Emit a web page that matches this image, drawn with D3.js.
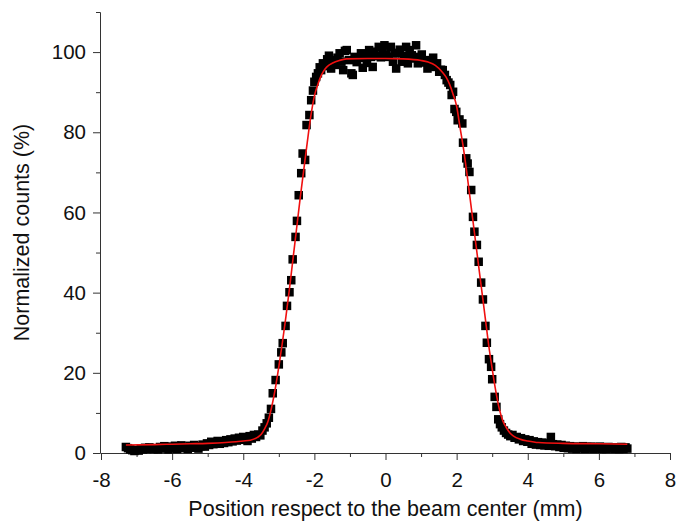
<!DOCTYPE html>
<html>
<head>
<meta charset="utf-8">
<script src="https://cdn.jsdelivr.net/npm/d3@7"></script>
<style>
  body { margin: 0; background: #fff; }
  svg text { font-family: "Liberation Sans", Arial, sans-serif; fill: #111; }
</style>
</head>
<body>
<svg id="chart" width="677" height="525"></svg>
<script>
'use strict';

// measured profile, position (mm)
var posX = [
  -7.30,-7.24,-7.18,-7.12,-7.06,-7.00,-6.94,-6.88,-6.82,-6.76,
  -6.70,-6.64,-6.58,-6.52,-6.46,-6.40,-6.34,-6.28,-6.22,-6.16,
  -6.10,-6.04,-5.98,-5.92,-5.86,-5.80,-5.74,-5.68,-5.62,-5.56,
  -5.50,-5.44,-5.38,-5.32,-5.26,-5.20,-5.14,-5.08,-5.02,-4.96,
  -4.90,-4.84,-4.78,-4.72,-4.66,-4.60,-4.54,-4.48,-4.42,-4.36,
  -4.30,-4.24,-4.18,-4.12,-4.06,-4.00,-3.94,-3.88,-3.82,-3.76,
  -3.70,-3.64,-3.58,-3.52,-3.46,-3.40,-3.34,-3.28,-3.22,-3.17,
  -3.09,-3.00,-2.93,-2.89,-2.81,-2.77,-2.70,-2.65,-2.61,-2.53,
  -2.49,-2.44,-2.37,-2.33,-2.26,-2.22,-2.14,-2.09,-2.04,-2.00,
  -1.95,-1.90,-1.85,-1.81,-1.76,-1.70,-1.64,-1.59,-1.53,-1.47,
  -1.41,-1.35,-1.29,-1.24,-1.19,-1.14,-1.09,-1.03,-0.96,-0.92,
  -0.87,-0.81,-0.75,-0.69,-0.64,-0.58,-0.52,-0.46,-0.41,-0.36,
  -0.31,-0.25,-0.19,-0.13,-0.08,-0.03, 0.03, 0.09, 0.15, 0.21,
   0.27, 0.30, 0.35, 0.40, 0.46, 0.52, 0.58, 0.63, 0.68, 0.74,
   0.80, 0.86, 0.91, 0.96, 1.02, 1.07, 1.12, 1.18, 1.23, 1.29,
   1.34, 1.40, 1.45, 1.51, 1.56, 1.61, 1.67, 1.72, 1.77, 1.82,
   1.86, 1.90, 1.94, 1.99, 2.03, 2.08, 2.16, 2.18, 2.27, 2.31,
   2.36, 2.41, 2.46, 2.50, 2.57, 2.62, 2.69, 2.74, 2.81, 2.85,
   2.91, 2.97, 3.00, 3.07, 3.12, 3.17, 3.22, 3.27, 3.33, 3.39,
   3.45, 3.51, 3.57, 3.63, 3.69, 3.75, 3.81, 3.87, 3.93, 3.99,
   4.05, 4.11, 4.17, 4.23, 4.29, 4.35, 4.41, 4.47, 4.53, 4.59,
   4.65, 4.71, 4.77, 4.83, 4.89, 4.95, 5.01, 5.07, 5.13, 5.19,
   5.25, 5.31, 5.37, 5.43, 5.49, 5.55, 5.61, 5.67, 5.73, 5.79,
   5.85, 5.91, 5.97, 6.03, 6.09, 6.15, 6.21, 6.27, 6.33, 6.39,
   6.45, 6.51, 6.57, 6.63, 6.69, 6.75, 6.80
];

// normalized counts (%)
var counts = [
  1.5, 1.2, 0.9, 0.7, 0.5, 0.8, 0.6, 1.1, 0.9, 1.3,
  1.0, 1.4, 1.2, 1.0, 1.2, 0.9, 1.5, 1.1, 1.7, 1.3,
  0.9, 1.6, 1.2, 1.8, 1.0, 1.4, 1.9, 1.2, 1.6, 1.0,
  1.8, 1.3, 2.0, 1.5, 1.1, 1.7, 2.1, 1.6, 2.4, 2.0,
  2.8, 2.2, 2.6, 3.0, 2.3, 2.9, 2.5, 3.2, 2.7, 3.4,
  2.9, 3.6, 3.1, 3.8, 3.3, 4.0, 3.5, 3.0, 4.2, 3.6,
  4.5, 4.0, 4.6, 4.4, 5.6, 6.4, 7.4, 8.8, 11.0, 14.9,
  18.2, 22.1, 25.1, 27.4, 31.7, 36.7, 40.1, 43.1, 48.3, 53.9,
  57.9, 64.3, 69.8, 74.7, 73.1, 81.8, 84.3, 88.0, 90.4, 92.6,
  93.8, 94.7, 96.2, 95.5, 97.2, 96.5, 98.2, 99.1, 95.9, 98.0,
  96.8, 98.6, 99.7, 97.6, 95.5, 100.3, 100.5, 98.0, 94.7, 94.3,
  98.8, 97.5, 98.5, 99.7, 96.1, 99.3, 97.3, 100.5, 98.8, 96.3,
  100.1, 99.0, 101.3, 98.7, 100.4, 101.7, 99.3, 98.8, 101.3, 97.6,
  99.7, 95.9, 99.8, 100.6, 97.6, 99.1, 101.3, 97.2, 100.5, 99.2,
  98.4, 101.7, 97.2, 98.8, 99.4, 97.4, 98.0, 95.9, 97.8, 96.6,
  98.6, 96.3, 97.2, 95.1, 95.6, 95.5, 94.3, 93.0, 92.4, 91.8,
  89.3, 90.1, 85.8, 85.1, 83.0, 83.2, 82.2, 77.4, 73.5, 72.2,
  70.1, 65.6, 58.9, 55.2, 51.9, 47.7, 42.5, 38.3, 31.7, 27.5,
  23.4, 21.5, 18.4, 14.0, 11.5, 8.4, 7.2, 6.4, 5.6, 5.0,
  4.6, 4.2, 4.5, 3.8, 4.0, 3.4, 3.7, 3.0, 3.4, 2.8,
  3.2, 2.3, 2.9, 2.1, 2.7, 2.0, 2.6, 1.9, 2.4, 1.8,
  4.0, 2.2, 1.7, 2.1, 1.5, 2.0, 1.3, 1.8, 1.2, 1.7,
  1.1, 1.6, 1.0, 1.5, 1.2, 1.7, 1.0, 1.5, 1.1, 1.6,
  1.0, 1.4, 1.1, 1.6, 1.0, 1.4, 1.0, 1.5, 1.1, 1.4,
  1.0, 1.3, 1.0, 1.5, 1.0, 1.4, 1.1
];

// fitted curve (red)
var fitX = [-7.3,-6.5,-6.0,-5.5,-5.0,-4.5,-4.2,-4.0,-3.8,-3.6,-3.5,-3.4,-3.3,-3.2,-3.1,
  -3.0,-2.9,-2.8,-2.7,-2.6,-2.5,-2.4,-2.3,-2.2,-2.1,-2.0,-1.9,-1.8,-1.7,-1.6,-1.5,-1.3,-1.1,
  -0.5,0,0.5,1.0,1.2,1.4,1.6,1.7,1.8,1.9,2.0,2.1,2.2,2.3,2.4,2.5,2.6,2.7,2.8,2.9,3.0,3.1,
  3.2,3.3,3.4,3.5,3.6,3.8,4.0,4.3,5.0,6.0,6.8];
var fitY = [2.0,2.1,2.2,2.3,2.4,2.6,2.8,3.0,3.2,3.9,4.6,6.0,8.0,11.5,16.0,
  21.5,27.5,34.0,41.0,48.5,56.0,63.5,70.5,77.5,84.0,89.0,92.0,94.3,95.8,96.7,97.2,97.9,98.3,
  98.4,98.4,98.3,97.9,97.5,96.7,95.0,93.8,92.0,89.5,86.5,81.0,75.5,69.0,62.0,55.0,48.0,41.0,34.0,27.0,21.0,15.5,
  11.0,8.0,6.3,5.0,4.2,3.4,3.0,2.6,2.4,2.3,2.2];

var xTicks = [-8, -6, -4, -2, 0, 2, 4, 6, 8];
var xMinor = [-7, -5, -3, -1, 1, 3, 5, 7];
var yTicks = [0, 20, 40, 60, 80, 100];
var yMinor = [10, 30, 50, 70, 90, 110];

var svg = d3.select('#chart');

var x = d3.scaleLinear().domain([-8, 8]).range([101, 670]);
var y = d3.scaleLinear().domain([0, 110]).range([453, 12]);

function styleAxis(g) {
  g.selectAll('path, line').attr('stroke', '#333').attr('stroke-width', 1);
  g.selectAll('text').attr('font-size', 20.5).attr('fill', '#111')
    .attr('font-family', '"Liberation Sans", Arial, sans-serif');
}

// minor ticks first, then major ticks with labels
svg.append('g').attr('transform', 'translate(0,453)')
  .call(d3.axisBottom(x).tickValues(xMinor).tickSize(4).tickFormat('').tickSizeOuter(0))
  .call(styleAxis);
svg.append('g').attr('transform', 'translate(0,453)')
  .call(d3.axisBottom(x).tickValues(xTicks).tickSize(7).tickPadding(12)
    .tickFormat(function(d) { return String(d); }).tickSizeOuter(0))
  .call(styleAxis);

svg.append('g').attr('transform', 'translate(100,0)')
  .call(d3.axisLeft(y).tickValues(yMinor).tickSize(4).tickFormat('').tickSizeOuter(0))
  .call(styleAxis);
svg.append('g').attr('transform', 'translate(100,0)')
  .call(d3.axisLeft(y).tickValues(yTicks).tickSize(7).tickPadding(7)
    .tickFormat(function(d) { return String(d); }).tickSizeOuter(0))
  .call(styleAxis);

// data squares
var pts = posX.map(function(px, i) { return [px, counts[i]]; });
svg.append('g').selectAll('rect')
  .data(pts)
  .enter().append('rect')
    .attr('x', function(d) { return x(d[0]) - 4.25; })
    .attr('y', function(d) { return y(d[1]) - 4.25; })
    .attr('width', 8.5)
    .attr('height', 8.5)
    .attr('fill', '#000');

// fit line on top
var fit = fitX.map(function(fx, i) { return [fx, fitY[i]]; });
var line = d3.line()
  .x(function(d) { return x(d[0]); })
  .y(function(d) { return y(d[1]); })
  .curve(d3.curveMonotoneX);

svg.append('path')
  .datum(fit)
  .attr('d', line)
  .attr('fill', 'none')
  .attr('stroke', '#f01010')
  .attr('stroke-width', 1.6);

// axis titles
svg.append('text')
  .attr('x', 385.5)
  .attr('y', 516)
  .attr('text-anchor', 'middle')
  .attr('font-size', 21.5)
  .text('Position respect to the beam center (mm)');

svg.append('text')
  .attr('transform', 'translate(29,232.5) rotate(-90)')
  .attr('text-anchor', 'middle')
  .attr('font-size', 21.5)
  .text('Normalized counts (%)');
</script>
</body>
</html>
